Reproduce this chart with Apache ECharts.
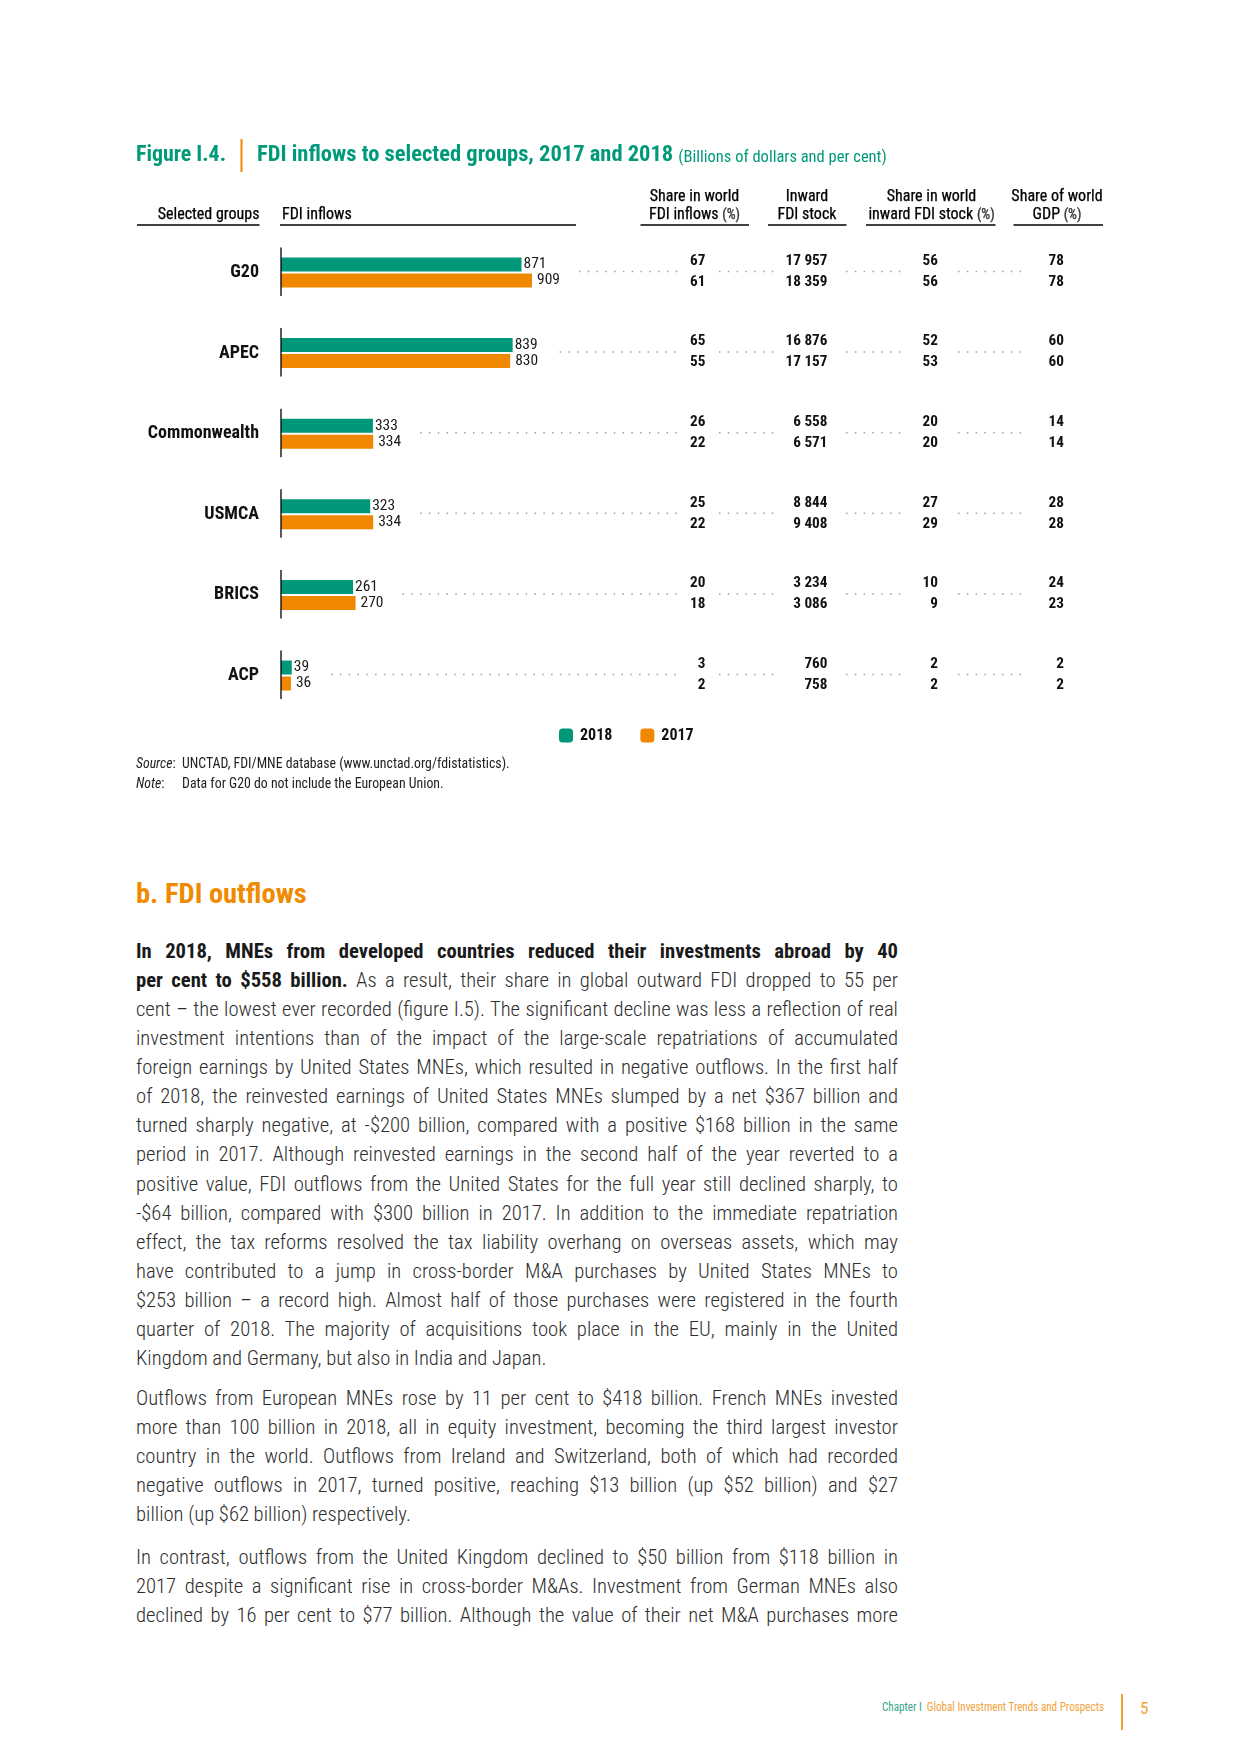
<!DOCTYPE html>
<html>
<head>
<meta charset="utf-8">
<script src="https://cdn.jsdelivr.net/npm/echarts/dist/echarts.min.js"></script>
<style>
  html, body { margin: 0; padding: 0; background: #fff; }
  #page { position: relative; width: 1240px; height: 1754px; overflow: hidden; background: #fff; }
  #chart { position: absolute; left: 0; top: 0; width: 1240px; height: 830px; }
  .narrow { font-family: "Liberation Sans Narrow", "Arial Narrow", "Roboto Condensed", "Open Sans Condensed", "DejaVu Sans Condensed", sans-serif; }
  .fit { transform-origin: 0 50%; }
  #heading { position: absolute; left: 136px; top: 877px; font-size: 28.5px; font-weight: bold; color: #f08a00; line-height: 34px; white-space: nowrap; }
  .ln { position: absolute; left: 136px; width: 762px; height: 29px; line-height: 29px; font-size: 19px; font-weight: 300; color: #2e2e2e; white-space: nowrap; }
  .ln b { color: #1a1a1a; font-weight: bold; }
  #footer { position: absolute; left: 882px; top: 1699px; font-size: 12.5px; line-height: 16px; white-space: nowrap; }
  #footer .ch { color: #3aa68b; }
  #footer .tt { color: #f0a23a; }
  #fline { position: absolute; left: 1121px; top: 1694px; width: 1.5px; height: 36px; background: #f0a23a; }
  #pnum { position: absolute; left: 1140px; top: 1697px; font-size: 17px; line-height: 22px; color: #f0a23a; }
</style>
</head>
<body>
<div id="page">
  <div id="chart"></div>
  <div id="heading" class="narrow fit">b. FDI outflows</div>
  <div id="body"></div>
  <div id="footer" class="narrow fit"><span class="ch">Chapter I</span>&nbsp; <span class="tt">Global Investment Trends and Prospects</span></div>
  <div id="fline"></div>
  <div id="pnum" class="narrow">5</div>
</div>
<script>
// ---------------- data ----------------
const groups = ['G20', 'APEC', 'Commonwealth', 'USMCA', 'BRICS', 'ACP'];
const inflows2018 = [871, 839, 333, 323, 261, 39];
const inflows2017 = [909, 830, 334, 334, 270, 36];
const shareInflows2018 = [67, 65, 26, 25, 20, 3];
const shareInflows2017 = [61, 55, 22, 22, 18, 2];
const stock2018 = [17957, 16876, 6558, 8844, 3234, 760];
const stock2017 = [18359, 17157, 6571, 9408, 3086, 758];
const shareStock2018 = [56, 52, 20, 27, 10, 2];
const shareStock2017 = [56, 53, 20, 29, 9, 2];
const shareGdp2018 = [78, 60, 14, 28, 24, 2];
const shareGdp2017 = [78, 60, 14, 28, 23, 2];
const seriesNames = ['2018', '2017'];

const FONT = '"Liberation Sans Narrow", "Arial Narrow", "Roboto Condensed", "Open Sans Condensed", "DejaVu Sans Condensed", sans-serif';
const GREEN = '#009879';
const ORANGE = '#f08700';
const TEAL = '#009a7a';

function fmt(v) {
  return String(v).replace(/\B(?=(\d{3})+(?!\d))/g, ' ');
}

const mctx = document.createElement('canvas').getContext('2d');
function textW(str, font) { mctx.font = font; return mctx.measureText(str).width; }
function fitScale(str, font, target) { return Math.min(1, target / textW(str, font)); }

// ---------------- chart ----------------
const chart = echarts.init(document.getElementById('chart'), null, { renderer: 'canvas' });

const valueColX = [705.5, 827.5, 938, 1064];
const leaderSegs = [[719, 775], [846, 902], [958, 1025]];
const leaderEnd1 = 678;

const titleFont = 'bold 22.5px ' + FONT;
const subFont = '16.5px ' + FONT;
const titleMain = 'FDI inflows to selected groups, 2017 and 2018';
const subTitle = '(Billions of dollars and per cent)';
const titleScale = fitScale(titleMain, titleFont, 418);
const subX = 257 + textW(titleMain, titleFont) * titleScale + 5;
const hdrFont = '16px ' + FONT;
const hdrScale = fitScale('Share in world', hdrFont, 93);
const catFont = 'bold 18px ' + FONT;
const catScale = fitScale('Commonwealth', catFont, 113);
const valFont = 'bold 15.5px ' + FONT;
const valScale = fitScale('17 957', valFont, 42);
const lblFont = '15.5px ' + FONT;

function hdr(x, y, text, align) {
  return { type: 'text', x: x, y: y, scaleX: hdrScale, style: { text: text, align: align, verticalAlign: 'middle', fontFamily: FONT, fontSize: 16, fill: '#000', stroke: '#000', lineWidth: 0.25,
    rich: { p: { fontFamily: FONT, fontSize: 14, fill: '#333' } } } };
}
function headerText(x, l1, l2) {
  return [hdr(x, 196.5, l1, 'center'), hdr(x, 215, l2, 'center')];
}
function uline(x1, x2) {
  return { type: 'line', shape: { x1: x1, y1: 225, x2: x2, y2: 225 }, style: { stroke: '#000', lineWidth: 1.3 } };
}
function smallText(x, y, text) {
  return { type: 'text', x: x, y: y, style: { text: text, verticalAlign: 'middle', fontFamily: FONT, fontSize: 13.8, fill: '#222',
    rich: { i: { fontStyle: 'italic', fontFamily: FONT, fontSize: 13.8, fill: '#222' } } } };
}

const graphics = [
  { type: 'text', x: 136, y: 155, scaleX: fitScale('Figure I.4.', titleFont, 90), style: { text: 'Figure I.4.', verticalAlign: 'middle', font: titleFont, fill: TEAL } },
  { type: 'line', shape: { x1: 241.5, y1: 139, x2: 241.5, y2: 172 }, style: { stroke: ORANGE, lineWidth: 2 } },
  { type: 'text', x: 257, y: 155, scaleX: titleScale, style: { text: titleMain, verticalAlign: 'middle', font: titleFont, fill: TEAL } },
  { type: 'text', x: subX, y: 157.5, style: { text: subTitle, verticalAlign: 'middle', font: subFont, fill: TEAL } },
  { type: 'text', x: 259.5, y: 215, scaleX: fitScale('Selected groups', hdrFont, 104), style: { text: 'Selected groups', align: 'right', verticalAlign: 'middle', fontFamily: FONT, fontSize: 16, fill: '#000', stroke: '#000', lineWidth: 0.25 } },
  hdr(282, 215, 'FDI inflows', 'left'),
  ...headerText(694.5, 'Share in world', 'FDI inflows {p|(%)}'),
  ...headerText(807, 'Inward', 'FDI stock'),
  ...headerText(931.5, 'Share in world', 'inward FDI stock {p|(%)}'),
  ...headerText(1057, 'Share of world', 'GDP {p|(%)}'),
  uline(137, 259.5), uline(280, 576), uline(640.5, 749), uline(768, 846.5), uline(866, 995.5), uline(1013.5, 1103),
  smallText(136, 765, '{i|Source}:'),
  smallText(182, 765, 'UNCTAD, FDI/MNE database (www.unctad.org/fdistatistics).'),
  smallText(136, 785, '{i|Note}:'),
  smallText(182, 785, 'Data for G20 do not include the European Union.')
];

const bandH = 80.6;
const firstCenter = 272.5;

const option = {
  animation: false,
  backgroundColor: '#fff',
  textStyle: { fontFamily: FONT },
  grid: { left: 281, top: firstCenter - bandH / 2, width: 276.1, height: bandH * groups.length, containLabel: false },
  xAxis: { type: 'value', min: 0, max: 1000, show: false },
  yAxis: {
    type: 'category', data: groups, inverse: true,
    axisLine: { show: false }, axisTick: { show: false }, splitLine: { show: false },
    axisLabel: { show: false }
  },
  legend: {
    data: seriesNames, left: 559, top: 727.5, padding: 0, itemWidth: 14, itemHeight: 14, itemGap: 28,
    icon: 'roundRect', textStyle: { fontFamily: FONT, fontWeight: 'bold', fontSize: 16, color: '#111', padding: [0, 0, 0, 2] }
  },
  graphic: graphics,
  series: [
    {
      name: seriesNames[0], type: 'bar', data: inflows2018, barWidth: 14, barGap: '14%',
      itemStyle: { color: GREEN },
      label: { show: true, position: 'right', distance: 2, fontFamily: FONT, fontSize: 15.5, color: '#1a1a1a' }
    },
    {
      name: seriesNames[1], type: 'bar', data: inflows2017, barWidth: 14, barGap: '14%',
      itemStyle: { color: ORANGE },
      label: { show: true, position: 'right', distance: 5, fontFamily: FONT, fontSize: 15.5, color: '#1a1a1a' }
    },
    {
      name: 'axis', type: 'custom', clip: false, z: 5, silent: true,
      data: groups.map((g, i) => [0, i]),
      encode: { x: 0, y: 1 },
      renderItem: function (params, api) {
        const i = api.value(1);
        const c = api.coord([0, i]);
        return {
          type: 'group',
          children: [
            { type: 'line', shape: { x1: c[0], y1: c[1] - 25, x2: c[0], y2: c[1] + 23.5 }, style: { stroke: '#000', lineWidth: 1.3 } },
            { type: 'text', x: c[0] - 22, y: c[1], scaleX: catScale,
              style: { text: groups[i], align: 'right', verticalAlign: 'middle', fontFamily: FONT, fontWeight: 'bold', fontSize: 18, fill: '#111' } }
          ]
        };
      }
    },
    {
      name: 'leaders', type: 'custom', clip: false, silent: true,
      data: groups.map((g, i) => [Math.max(inflows2018[i], inflows2017[i]), i]),
      encode: { x: 0, y: 1 },
      renderItem: function (params, api) {
        const m = api.value(0);
        const c = api.coord([m, api.value(1)]);
        const start = c[0] + 5 + textW(String(m), lblFont) + 19;
        const segs = [[start, leaderEnd1]].concat(leaderSegs);
        const y = c[1] - 1;
        return {
          type: 'group',
          children: segs.map(s => ({
            type: 'line', shape: { x1: s[0], y1: y, x2: s[1], y2: y },
            style: { stroke: '#a0a0a0', lineWidth: 1.5, lineDash: [1.5, 7.3] }
          }))
        };
      }
    },
    {
      name: 'values', type: 'custom', clip: false, silent: true,
      data: groups.map((g, i) => [0, i]),
      encode: { x: 0, y: 1 },
      renderItem: function (params, api) {
        const i = api.value(1);
        const c = api.coord([0, i]);
        const cols = [[shareInflows2018, shareInflows2017], [stock2018, stock2017], [shareStock2018, shareStock2017], [shareGdp2018, shareGdp2017]];
        const children = [];
        cols.forEach((pair, k) => {
          pair.forEach((arr, j) => {
            children.push({
              type: 'text', x: valueColX[k], y: c[1] + (j === 0 ? -11.5 : 9.5), scaleX: valScale,
              style: {
                text: fmt(arr[i]), align: 'right', verticalAlign: 'middle',
                fontFamily: FONT, fontWeight: 'bold', fontSize: 15.5, fill: '#111'
              }
            });
          });
        });
        return { type: 'group', children: children };
      }
    }
  ]
};
chart.setOption(option);

// ---------------- body text ----------------
const paragraphs = [
  { top: 951.5, lines: [
    '<b>In 2018, MNEs from developed countries reduced their investments abroad by 40</b>',
    '<b>per cent to $558 billion.</b> As a result, their share in global outward FDI dropped to 55 per',
    'cent – the lowest ever recorded (figure I.5). The significant decline was less a reflection of real',
    'investment intentions than of the impact of the large-scale repatriations of accumulated',
    'foreign earnings by United States MNEs, which resulted in negative outflows. In the first half',
    'of 2018, the reinvested earnings of United States MNEs slumped by a net $367 billion and',
    'turned sharply negative, at -$200 billion, compared with a positive $168 billion in the same',
    'period in 2017. Although reinvested earnings in the second half of the year reverted to a',
    'positive value, FDI outflows from the United States for the full year still declined sharply, to',
    '-$64 billion, compared with $300 billion in 2017. In addition to the immediate repatriation',
    'effect, the tax reforms resolved the tax liability overhang on overseas assets, which may',
    'have contributed to a jump in cross-border M&amp;A purchases by United States MNEs to',
    '$253 billion – a record high. Almost half of those purchases were registered in the fourth',
    'quarter of 2018. The majority of acquisitions took place in the EU, mainly in the United',
    'Kingdom and Germany, but also in India and Japan.'
  ], lastFree: true },
  { top: 1398.6, lines: [
    'Outflows from European MNEs rose by 11 per cent to $418 billion. French MNEs invested',
    'more than 100 billion in 2018, all in equity investment, becoming the third largest investor',
    'country in the world. Outflows from Ireland and Switzerland, both of which had recorded',
    'negative outflows in 2017, turned positive, reaching $13 billion (up $52 billion) and $27',
    'billion (up $62 billion) respectively.'
  ], lastFree: true },
  { top: 1557, lines: [
    'In contrast, outflows from the United Kingdom declined to $50 billion from $118 billion in',
    '2017 despite a significant rise in cross-border M&amp;As. Investment from German MNEs also',
    'declined by 16 per cent to $77 billion. Although the value of their net M&amp;A purchases more'
  ], lastFree: false }
];
const lineStep = 29.07;
const TARGET = 762;
const bodyEl = document.getElementById('body');
const lineEls = [];
paragraphs.forEach(p => {
  p.lines.forEach((html, k) => {
    const d = document.createElement('div');
    d.className = 'ln narrow';
    d.style.top = (p.top + k * lineStep - 14.5) + 'px';
    d.innerHTML = '<span>' + html + '</span>';
    bodyEl.appendChild(d);
    lineEls.push({ d: d, isLast: p.lastFree && k === p.lines.length - 1 });
  });
});
// choose a font size so that the tightest line just fits
let maxRatio = 0;
lineEls.forEach(o => {
  const w = o.d.firstChild.getBoundingClientRect().width;
  maxRatio = Math.max(maxRatio, w / TARGET);
});
const fs = Math.min(21, 19 / maxRatio * 0.985);
lineEls.forEach(o => { o.d.style.fontSize = fs + 'px'; });
lineEls.forEach(o => {
  const span = o.d.firstChild;
  const w = span.getBoundingClientRect().width;
  const txt = span.textContent;
  if (w > TARGET) {
    span.style.letterSpacing = ((TARGET - w) / txt.length) + 'px';
  } else if (!o.isLast) {
    const spaces = (txt.match(/ /g) || []).length;
    if (spaces) span.style.wordSpacing = ((TARGET - w) / spaces) + 'px';
  }
});

function fitEl(id, target) {
  const el = document.getElementById(id);
  const w = el.getBoundingClientRect().width;
  if (w > target) el.style.transform = 'scaleX(' + (target / w) + ')';
}
fitEl('heading', 172);
fitEl('footer', 222);
</script>
</body>
</html>
